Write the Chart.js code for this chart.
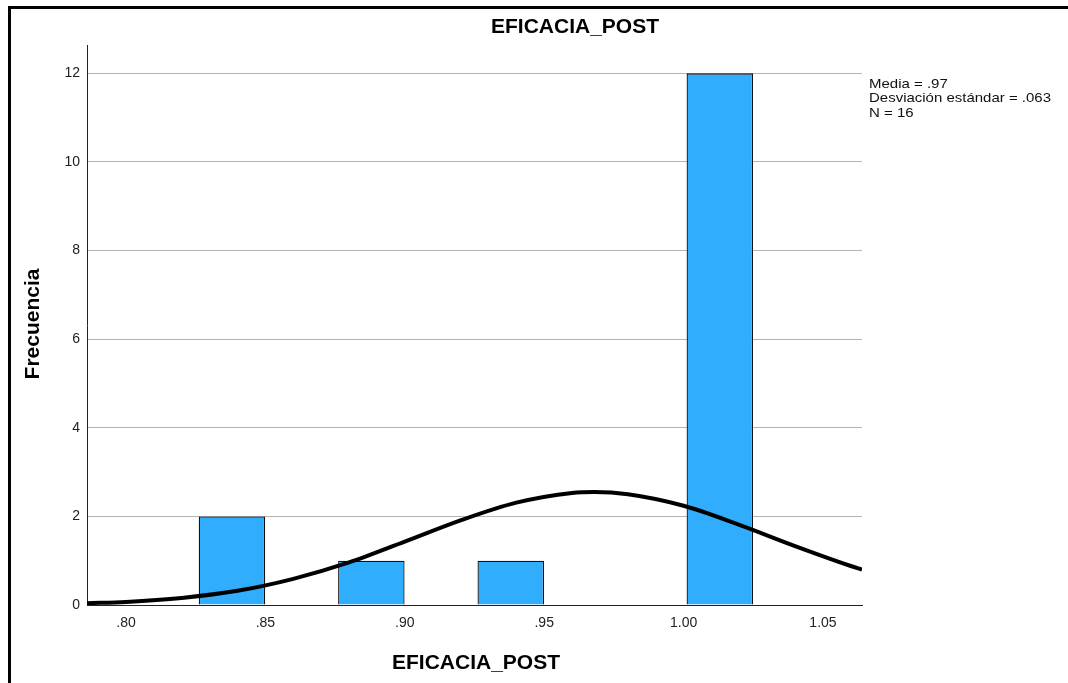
<!DOCTYPE html>
<html>
<head>
<meta charset="utf-8">
<script src="https://cdn.jsdelivr.net/npm/chart.js@4.4.1/dist/chart.umd.min.js"></script>
<style>
  body { margin: 0; background: #fff; }
  canvas { display: block; }
</style>
</head>
<body>
<canvas id="histo" width="1068" height="683"></canvas>
<script>
// histogram bins (centre of each bar) and frequencies
var binCenters = [0.838, 0.888, 0.938, 1.013];
var frequencies = [2, 1, 1, 12];

// normal curve
var curveX = [0.786, 0.80, 0.82, 0.84, 0.86, 0.88, 0.90, 0.92, 0.94, 0.96, 0.968, 0.98, 1.00, 1.02, 1.04, 1.06, 1.064];
var curveY = [0.04, 0.07, 0.16, 0.32, 0.59, 0.96, 1.43, 1.91, 2.31, 2.53, 2.55, 2.50, 2.24, 1.81, 1.33, 0.88, 0.80];

var xTicks = [0.80, 0.85, 0.90, 0.95, 1.00, 1.05];
var xTickLabels = ['.80', '.85', '.90', '.95', '1.00', '1.05'];
var yTicks = [0, 2, 4, 6, 8, 10, 12];

var statsLines = ['Media = .97', 'Desviación estándar = .063', 'N = 16'];
var chartTitle = 'EFICACIA_POST';
var xTitle = 'EFICACIA_POST';
var yTitle = 'Frecuencia';

var FONT = "'Liberation Sans', Arial, sans-serif";

var bars = [];
for (var i = 0; i < binCenters.length; i++) bars.push({ x: binCenters[i], y: frequencies[i] });
var curve = [];
for (var j = 0; j < curveX.length; j++) curve.push({ x: curveX[j], y: curveY[j] });

/*  decorations: frame, titles, stats box  */
var decor = {
  id: 'decor',
  beforeDraw: function (chart) {
    var c = chart.ctx;
    c.save();
    c.fillStyle = '#fff';
    c.fillRect(0, 0, chart.width, chart.height);
    c.restore();
  },
  afterDraw: function (chart) {
    var c = chart.ctx;
    c.save();
    c.fillStyle = '#000';
    c.textAlign = 'center';
    c.textBaseline = 'middle';
    c.font = 'bold 21px ' + FONT;
    c.fillText(chartTitle, 575, 27);
    c.fillText(xTitle, 476, 663);

    c.save();
    c.translate(33.5, 324);
    c.rotate(-Math.PI / 2);
    c.fillText(yTitle, 0, 0);
    c.restore();

    // stats text, a little wide like the original
    c.fillStyle = '#111';
    c.font = '13.5px ' + FONT;
    c.textAlign = 'left';
    var w = c.measureText(statsLines[1]).width;
    var sx = 182 / w;
    for (var k = 0; k < statsLines.length; k++) {
      c.save();
      c.translate(869, 84 + k * 14.7);
      c.scale(sx, 1);
      c.fillText(statsLines[k], 0, 0);
      c.restore();
    }

    // outer frame
    c.strokeStyle = '#000';
    c.lineWidth = 3;
    c.beginPath();
    c.moveTo(8, 7.5);
    c.lineTo(1068, 7.5);
    c.moveTo(9.5, 6);
    c.lineTo(9.5, 683);
    c.stroke();
    c.restore();
  }
};

var ctx = document.getElementById('histo');
var histo = new Chart(ctx, {
  type: 'bar',
  data: {
    datasets: [{
      type: 'line',
      data: curve,
      borderColor: '#000',
      borderWidth: 4,
      pointRadius: 0,
      fill: false,
      cubicInterpolationMode: 'monotone',
      order: 0
    }, {
      type: 'bar',
      data: bars,
      backgroundColor: '#31adfe',
      borderColor: '#111',
      borderWidth: 1.3,
      categoryPercentage: 1,
      barPercentage: 0.477,
      order: 1
    }]
  },
  plugins: [decor],
  options: {
    responsive: false,
    animation: false,
    events: [],
    layout: { padding: { left: 0, top: 45, right: 206, bottom: 0 } },
    plugins: {
      legend: { display: false },
      title: { display: false },
      tooltip: { enabled: false }
    },
    scales: {
      x: {
        type: 'linear',
        min: 0.786,
        max: 1.064,
        offset: false,
        afterBuildTicks: function (scale) {
          scale.ticks = xTicks.map(function (v) { return { value: v }; });
        },
        afterFit: function (scale) { scale.height = 78; },
        grid: { display: false, drawTicks: false },
        border: { color: '#222', width: 1 },
        ticks: {
          autoSkip: false,
          maxRotation: 0,
          padding: 10,
          color: '#222',
          font: { family: FONT, size: 14 },
          callback: function (v, idx) { return xTickLabels[idx]; }
        }
      },
      y: {
        min: 0,
        max: 12.64,
        afterBuildTicks: function (scale) {
          scale.ticks = yTicks.map(function (v) { return { value: v }; });
        },
        afterFit: function (scale) { scale.width = 87; },
        grid: {
          drawTicks: false,
          color: function (g) { return g.tick && g.tick.value === 0 ? 'rgba(0,0,0,0)' : '#b4b4b4'; },
          lineWidth: 1
        },
        border: { color: '#222', width: 1 },
        ticks: {
          padding: 7,
          color: '#222',
          font: { family: FONT, size: 14 },
          callback: function (v) { return String(v); }
        }
      }
    }
  }
});
</script>
</body>
</html>
